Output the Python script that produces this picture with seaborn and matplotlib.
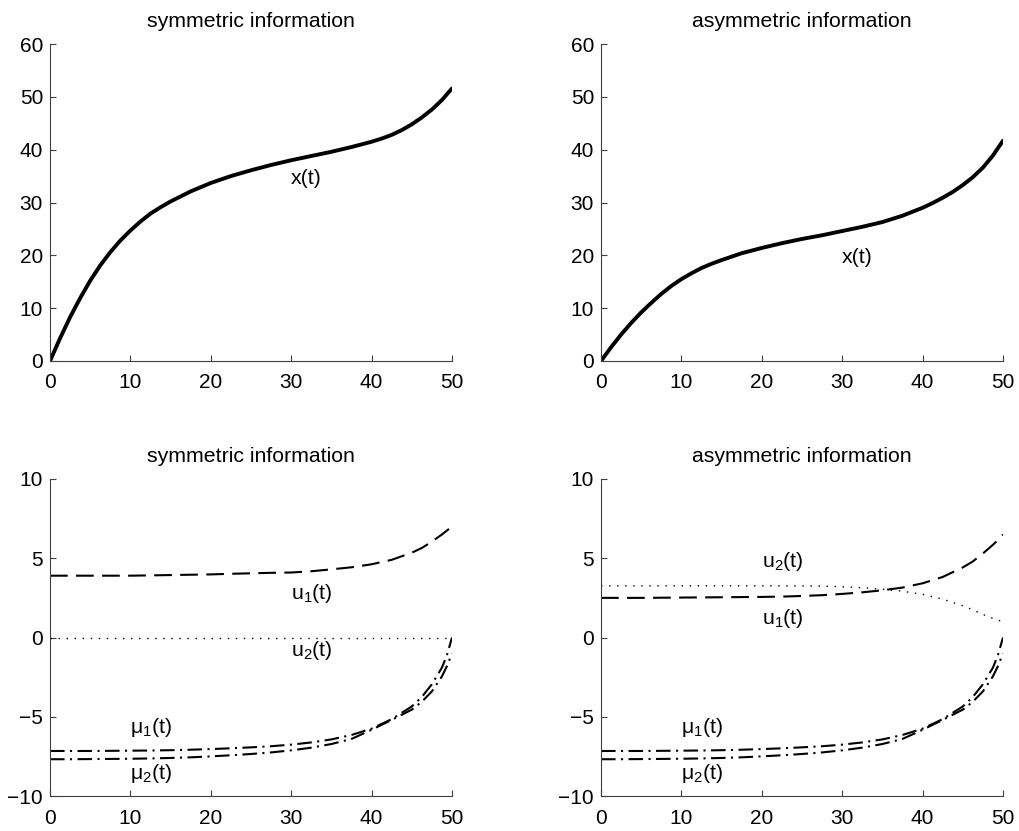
import numpy as np
import pandas as pd
import matplotlib
matplotlib.use("Agg")
import matplotlib.pyplot as plt
import seaborn as sns

# ---- data ----
t_top = [0, 1.25, 2.5, 3.75, 5, 6.25, 7.5, 8.75, 10, 11.25, 12.5, 13.75, 15,
         17.5, 20, 22.5, 25, 27.5, 30, 32.5, 35, 37.5, 40, 41.25, 42.5, 43.75,
         45, 46.25, 47.5, 48.75, 50]
x_sym = [0, 4.3, 8.3, 11.9, 15.2, 18.1, 20.6, 22.8, 24.7, 26.4, 27.9, 29.1,
         30.2, 32.1, 33.7, 35.0, 36.1, 37.1, 38.0, 38.8, 39.6, 40.5, 41.5,
         42.1, 42.8, 43.7, 44.8, 46.1, 47.6, 49.4, 51.6]
x_asym = [0, 2.6, 5.0, 7.2, 9.2, 11.0, 12.7, 14.2, 15.5, 16.6, 17.6, 18.4,
          19.1, 20.4, 21.4, 22.3, 23.1, 23.8, 24.6, 25.4, 26.3, 27.5, 29.0,
          29.9, 30.9, 32.0, 33.3, 34.8, 36.6, 38.9, 41.7]

tm = [0, 2.5, 5, 7.5, 10, 12.5, 15, 17.5, 20, 22.5, 25, 27.5, 30, 32.5, 35,
      37.5, 40, 42.5, 45, 46.25, 47.5, 48.75, 49.375, 50]
u1_sym = [3.9, 3.9, 3.9, 3.9, 3.9, 3.92, 3.94, 3.96, 3.98, 4.02, 4.05, 4.08,
          4.1, 4.18, 4.3, 4.43, 4.62, 4.9, 5.35, 5.65, 6.05, 6.5, 6.75, 7.0]
u2_sym = [0.0] * 24
mu1_sym = [-7.16, -7.16, -7.16, -7.15, -7.14, -7.13, -7.11, -7.08, -7.04,
           -6.99, -6.93, -6.86, -6.76, -6.62, -6.43, -6.15, -5.75, -5.15,
           -4.35, -3.75, -2.95, -1.9, -1.1, 0.0]
mu2_sym = [-7.68, -7.68, -7.67, -7.66, -7.65, -7.63, -7.6, -7.56, -7.5, -7.43,
           -7.35, -7.25, -7.12, -6.95, -6.72, -6.4, -5.82, -5.2, -4.55, -4.05,
           -3.4, -2.45, -1.8, -1.0]

u1_asym = [2.5, 2.5, 2.5, 2.51, 2.52, 2.53, 2.54, 2.55, 2.56, 2.58, 2.62,
           2.67, 2.75, 2.85, 2.98, 3.15, 3.42, 3.82, 4.42, 4.8, 5.3, 5.85,
           6.15, 6.5]
u2_asym = [3.26, 3.26, 3.26, 3.26, 3.26, 3.26, 3.26, 3.26, 3.26, 3.26, 3.25,
           3.24, 3.2, 3.14, 3.05, 2.92, 2.72, 2.42, 2.0, 1.75, 1.45, 1.2,
           1.1, 1.0]
mu1_asym = mu1_sym
mu2_asym = mu2_sym

titles = ["symmetric information", "asymmetric information"]

# ---- styling ----
sns.set_style("white")
plt.rcParams['font.family'] = ['Liberation Sans', 'DejaVu Sans']
plt.rcParams['mathtext.fontset'] = 'custom'
plt.rcParams['mathtext.rm'] = 'Liberation Sans'
plt.rcParams['mathtext.it'] = 'Liberation Sans'
plt.rcParams['text.color'] = 'black'
plt.rcParams['xtick.labelcolor'] = 'black'
plt.rcParams['ytick.labelcolor'] = 'black'
plt.rcParams['axes.titlecolor'] = 'black'

DPI = 100
fig = plt.figure(figsize=(10.19, 8.31), dpi=DPI)
W, H = 1019, 831

def make_ax(x0, x1, y0, y1):
    return fig.add_axes([x0 / W, 1 - y1 / H, (x1 - x0) / W, (y1 - y0) / H])

ax_tl = make_ax(50, 452, 44, 361)
ax_tr = make_ax(601, 1003, 44, 361)
ax_bl = make_ax(50, 452, 479, 796)
ax_br = make_ax(601, 1003, 479, 796)

TICK_FS = 15
TXT_FS = 15.3
spine_col = "#404040"

def style(ax, ylim, yticks, title):
    ax.set_xlim(0, 50)
    ax.set_ylim(*ylim)
    ax.set_xticks([0, 10, 20, 30, 40, 50])
    ax.set_yticks(yticks)
    sns.despine(ax=ax)
    for s in ("left", "bottom"):
        ax.spines[s].set_color(spine_col)
        ax.spines[s].set_linewidth(0.8)
    ax.tick_params(direction="in", length=4, width=0.8, color=spine_col,
                   labelsize=TICK_FS, labelcolor="black", left=True,
                   bottom=True)
    ax.tick_params(axis="x", pad=9)
    ax.tick_params(axis="y", pad=5)
    ax.set_title(title, fontsize=TXT_FS, pad=12, color="black")
    ax.set_xlabel("")
    ax.set_ylabel("")
    ax.set_facecolor("white")

# top panels
for ax, xv, title, lab in [(ax_tl, x_sym, titles[0], 34.5),
                           (ax_tr, x_asym, titles[1], 19.5)]:
    sns.lineplot(x=t_top, y=xv, ax=ax, color="black", linewidth=2.8,
                 estimator=None, sort=False)
    ax.lines[-1].set_solid_joinstyle("round")
    style(ax, (0, 60), [0, 10, 20, 30, 40, 50, 60], title)
    ax.text(30, lab, "x(t)", fontsize=TXT_FS, ha="left", va="center",
            color="black")

dash_u1 = (8.5, 4.0)
dot_u2 = (1.0, 4.8)
dashdot_mu = (7.0, 2.6, 1.0, 2.6)

def lines_bottom(ax, u1, u2, mu1, mu2):
    sns.lineplot(x=tm, y=u1, ax=ax, color="black", linewidth=1.5,
                 estimator=None, sort=False)
    ax.lines[-1].set_dashes(dash_u1)
    sns.lineplot(x=tm, y=u2, ax=ax, color="black", linewidth=1.0,
                 estimator=None, sort=False)
    ax.lines[-1].set_dashes(dot_u2)
    sns.lineplot(x=tm, y=mu1, ax=ax, color="black", linewidth=1.5,
                 estimator=None, sort=False)
    ax.lines[-1].set_dashes(dashdot_mu)
    sns.lineplot(x=tm, y=mu2, ax=ax, color="black", linewidth=1.5,
                 estimator=None, sort=False)
    ax.lines[-1].set_dashes(dashdot_mu)

def label(ax, x, y, s):
    ax.text(x, y, s, fontsize=TXT_FS, ha="left", va="center", color="black")

lines_bottom(ax_bl, u1_sym, u2_sym, mu1_sym, mu2_sym)
style(ax_bl, (-10, 10), [-10, -5, 0, 5, 10], titles[0])
label(ax_bl, 30, 2.8, r"u$_1$(t)")
label(ax_bl, 30, -0.8, r"u$_2$(t)")
label(ax_bl, 10, -5.7, r"μ$_1$(t)")
label(ax_bl, 10, -8.6, r"μ$_2$(t)")

lines_bottom(ax_br, u1_asym, u2_asym, mu1_asym, mu2_asym)
style(ax_br, (-10, 10), [-10, -5, 0, 5, 10], titles[1])
label(ax_br, 20, 4.8, r"u$_2$(t)")
label(ax_br, 20, 1.2, r"u$_1$(t)")
label(ax_br, 10, -5.7, r"μ$_1$(t)")
label(ax_br, 10, -8.6, r"μ$_2$(t)")

for ax in (ax_bl, ax_br):
    ax.set_yticklabels(["\u221210", "\u22125", "0", "5", "10"])

fig.savefig("out.png", dpi=DPI, facecolor="white")
